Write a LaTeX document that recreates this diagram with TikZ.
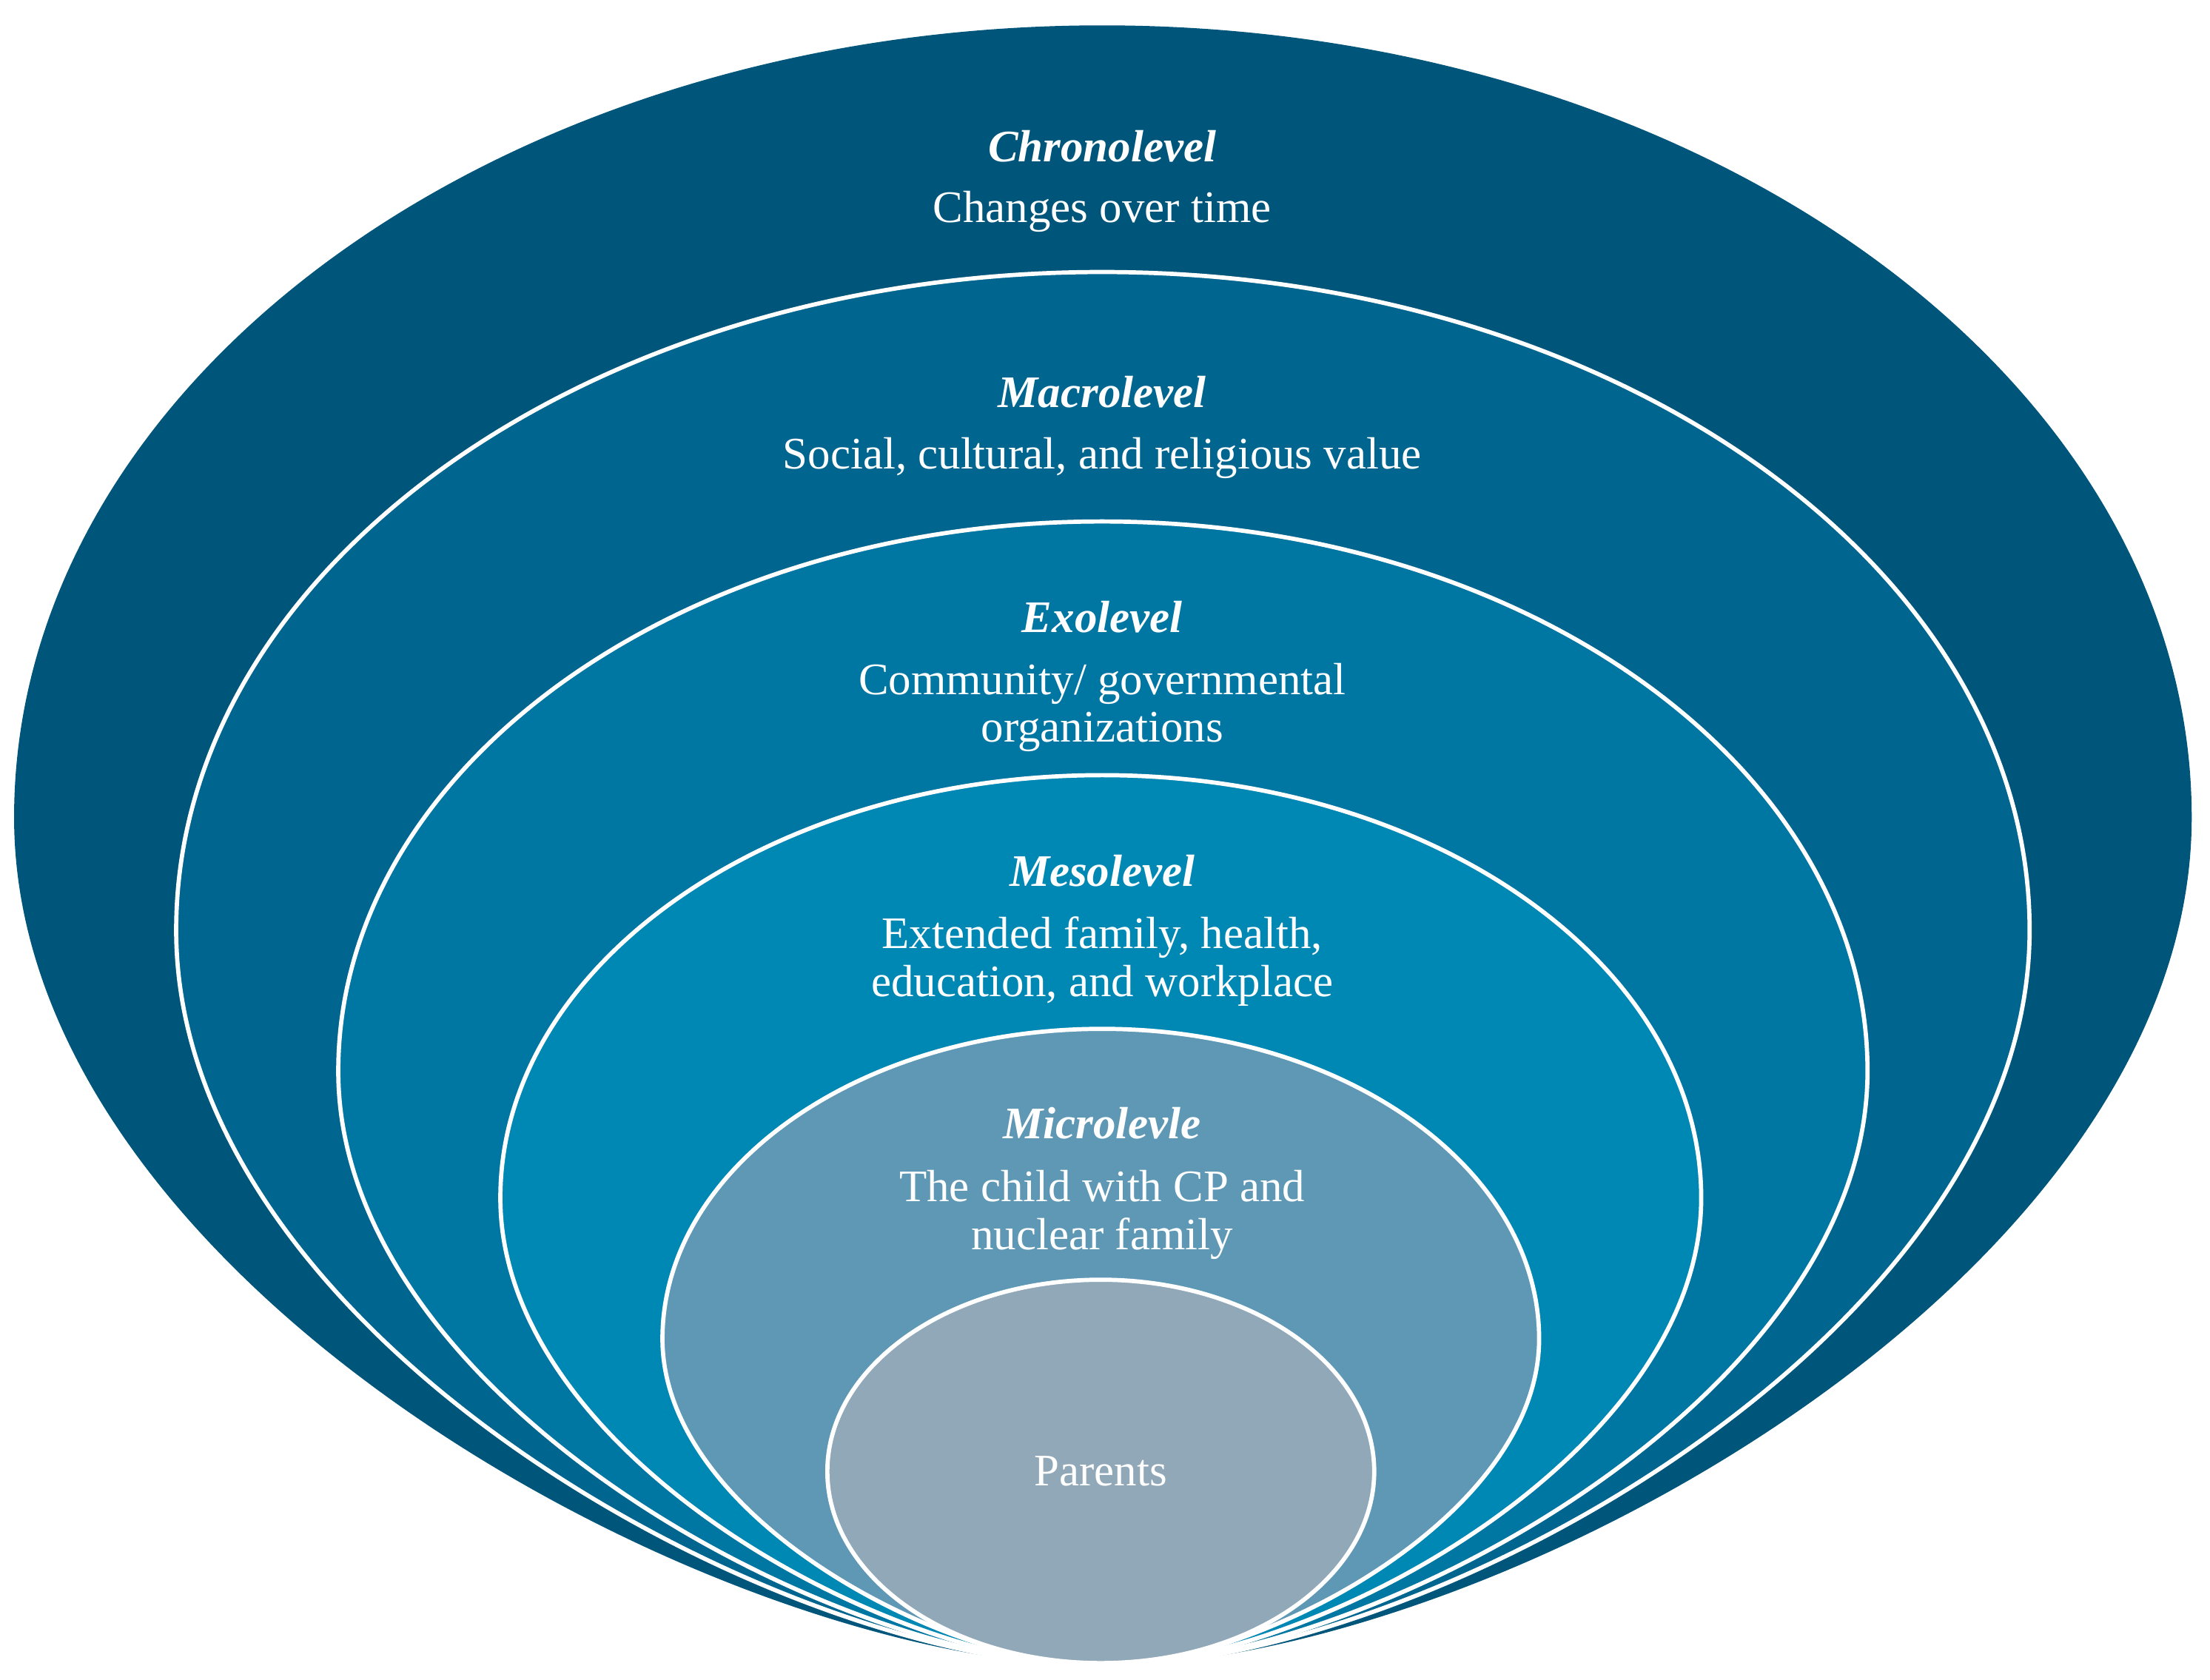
\documentclass[tikz,border=0pt]{standalone}
\usepackage{fontspec}
\setmainfont{Liberation Serif}
\begin{document}
\definecolor{cChrono}{HTML}{00557A}
\definecolor{cMacro}{HTML}{006690}
\definecolor{cExo}{HTML}{0076A3}
\definecolor{cMeso}{HTML}{0088B5}
\definecolor{cMicro}{HTML}{5E98B5}
\definecolor{cPar}{HTML}{91A8B8}
\newcommand\tdrop[6]{%
 \pgfmathsetmacro\rxa{782-#1}\pgfmathsetmacro\rxb{#2-782}\pgfmathsetmacro\ry{#4-#3}%
 \pgfmathsetmacro\cy{#4+0.55*(1182-#4)}%
 \pgfmathsetmacro\bxa{782-0.35*\rxa}\pgfmathsetmacro\bxb{782+0.35*\rxb}%
 \pgfmathsetmacro\kxa{782-0.552*\rxa}\pgfmathsetmacro\kxb{782+0.552*\rxb}%
 \pgfmathsetmacro\ky{#4-0.552*\ry}%
 \path[fill=#5,#6] (782,1182) .. controls (\bxa,1182) and (#1,\cy) .. (#1,#4) .. controls (#1,\ky) and (\kxa,#3) .. (782,#3) .. controls (\kxb,#3) and (#2,\ky) .. (#2,#4) .. controls (#2,\cy) and (\bxb,1182) .. (782,1182) -- cycle;}
\begin{tikzpicture}[x=0.5pt,y=-0.5pt,
  ttl/.style={text=white,font=\fontsize{16}{18}\selectfont\bfseries\itshape},
  sub/.style={text=white,font=\fontsize{16}{17}\selectfont,align=center},
  bd/.style={draw=white,line width=1.5pt}]
\useasboundingbox (0,0) rectangle (1568,1192);
\tdrop{10}{1555}{18}{580}{cChrono}{}
\tdrop{125}{1440}{193}{660}{cMacro}{bd}
\tdrop{240}{1325}{370}{760}{cExo}{bd}
\tdrop{355}{1207}{550}{850}{cMeso}{bd}
\tdrop{470}{1092}{730}{950}{cMicro}{bd}
\path[fill=cPar,bd] (781,1044) ellipse [x radius=194,y radius=-136];
\node[ttl] (t1) at (782,104) {Chronolevel};
\node[sub] (s1) at (782,150) {Changes over time};
\node[ttl] (t2) at (782,278) {Macrolevel};
\node[sub] (s2) at (782,325) {Social, cultural, and religious value};
\node[ttl] (t3) at (782,438) {Exolevel};
\node[sub] (s3) at (782,502) {Community/ governmental\\organizations};
\node[ttl] (t4) at (782,618) {Mesolevel};
\node[sub] (s4) at (782,682) {Extended family, health,\\education, and workplace};
\node[ttl] (t5) at (782,797) {Microlevle};
\node[sub] (s5) at (782,862) {The child with CP and\\nuclear family};
\node[sub] (p) at (781,1044) {Parents};
\end{tikzpicture}
\end{document}
